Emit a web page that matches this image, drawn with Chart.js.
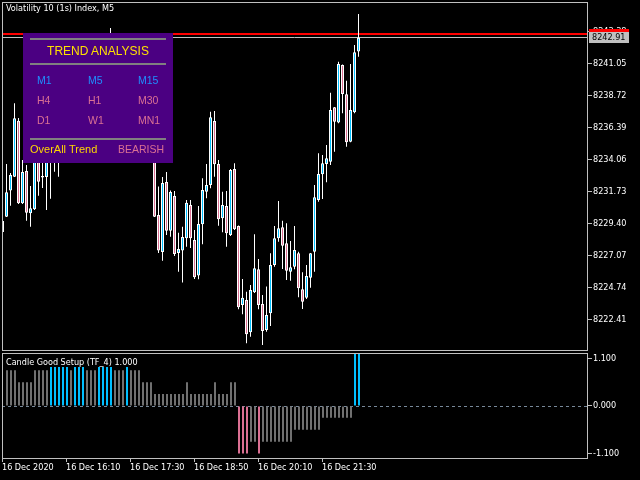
<!DOCTYPE html>
<html>
<head>
<meta charset="utf-8">
<script src="https://cdn.jsdelivr.net/npm/chart.js@4.4.1/dist/chart.umd.min.js"></script>
<style>
html,body{margin:0;padding:0;background:#000;}
#wrap{position:relative;width:640px;height:480px;background:#000;overflow:hidden;}
canvas{position:absolute;left:0;}
#main{top:0;}
#sub{top:352px;}
.t{position:absolute;font-family:"DejaVu Sans Condensed","DejaVu Sans",sans-serif;font-size:9px;line-height:9px;color:#fff;white-space:nowrap;}
#panel{position:absolute;left:23px;top:33px;width:150px;height:130px;background:#4B0082;font-family:"Liberation Sans",Arial,sans-serif;}
#panel .ln{position:absolute;left:7px;width:136px;height:2px;background:#808080;}
#panel .tx{position:absolute;white-space:nowrap;font-size:10.5px;line-height:10.5px;}
.bl{color:#1E90FF;}
.pk{color:#DB7093;}
</style>
</head>
<body>
<div id="wrap">
  <canvas id="main" width="640" height="352"></canvas>
  <canvas id="sub" width="640" height="128"></canvas>
  <div class="t" style="left:6px;top:4px;">Volatility 10 (1s) Index, M5</div>
  <div class="t" style="left:6px;top:358px;">Candle Good Setup (TF_4) 1.000</div>
  <div id="panel">
    <div class="ln" style="top:5px;"></div>
    <div class="tx" style="left:0;width:150px;text-align:center;top:11.5px;font-size:12px;line-height:12px;color:#FFE000;">TREND ANALYSIS</div>
    <div class="ln" style="top:30px;"></div>
    <div class="tx bl" style="left:14px;top:41.8px;">M1</div>
    <div class="tx bl" style="left:65px;top:41.8px;">M5</div>
    <div class="tx bl" style="left:115px;top:41.8px;">M15</div>
    <div class="tx pk" style="left:14px;top:61.8px;">H4</div>
    <div class="tx pk" style="left:65px;top:61.8px;">H1</div>
    <div class="tx pk" style="left:115px;top:61.8px;">M30</div>
    <div class="tx pk" style="left:14px;top:81.8px;">D1</div>
    <div class="tx pk" style="left:65px;top:81.8px;">W1</div>
    <div class="tx pk" style="left:115px;top:81.8px;">MN1</div>
    <div class="ln" style="top:105px;"></div>
    <div class="tx" style="left:7px;top:111px;font-size:11px;line-height:11px;color:#FFD700;">OverAll Trend</div>
    <div class="tx pk" style="left:95px;top:111px;font-size:10.5px;">BEARISH</div>
  </div>
</div>
<script>
// ---------- data ----------
const openPrices = [
 8229.57,8229.88,8231.78,8232.79,8236.87,8230.86,8233.21,8230.13,8230.42,8234.74,
 8232.85,8232.77,8234.01,8236.56,8234.16,8236.92,8238.74,8237.65,8239.84,8240.93,
 8239.47,8241.29,8240.20,8241.66,8242.38,8240.56,8239.11,8241.66,8242.89,8240.93,
 8239.47,8240.56,8238.38,8236.92,8238.02,8235.83,8237.07,8235.47,8234.37,8230.01,
 8227.31,8232.41,8228.86,8231.39,8227.24,8227.41,8228.31,8230.73,8228.18,8225.59,
 8229.33,8231.70,8232.19,8236.85,8233.72,8229.77,8230.66,8228.55,8233.36,8229.20,
 8223.45,8223.82,8221.46,8224.38,8226.05,8223.52,8221.63,8222.85,8226.36,8228.31,
 8229.11,8227.94,8225.88,8226.24,8227.22,8224.60,8223.98,8225.44,8227.33,8231.10,
 8232.97,8233.72,8233.89,8237.85,8236.73,8240.93,8238.79,8235.34,8237.48,8241.90
];
const highPrices = [
 8229.71,8233.72,8233.06,8238.14,8237.07,8234.01,8233.65,8232.12,8235.10,8235.10,
 8234.16,8235.47,8237.07,8237.29,8237.65,8239.25,8239.47,8240.42,8241.44,8241.29,
 8242.02,8241.87,8242.38,8242.89,8242.75,8241.00,8242.17,8243.62,8243.11,8241.29,
 8241.15,8240.85,8238.74,8238.38,8238.38,8237.50,8237.29,8236.05,8234.74,8232.07,
 8232.77,8233.14,8231.78,8231.75,8228.72,8229.15,8231.10,8231.10,8228.91,8230.66,
 8232.68,8233.72,8237.53,8237.58,8234.01,8231.70,8231.75,8233.36,8233.77,8229.24,
 8225.35,8224.42,8224.91,8228.60,8226.80,8224.18,8224.79,8227.22,8229.20,8231.02,
 8229.59,8229.40,8228.11,8229.20,8227.33,8225.83,8226.36,8227.24,8232.19,8234.50,
 8234.37,8235.10,8238.91,8237.87,8241.17,8240.96,8239.78,8241.00,8242.38,8244.64
];
const lowPrices = [
 8228.62,8229.86,8230.68,8232.77,8230.81,8230.81,8229.59,8229.15,8230.37,8231.41,
 8231.97,8230.37,8231.19,8233.16,8232.79,8236.19,8237.07,8237.29,8239.11,8238.74,
 8238.96,8239.69,8239.84,8241.15,8240.20,8238.52,8238.74,8241.29,8240.56,8238.96,
 8238.74,8237.80,8236.34,8236.19,8235.32,8235.10,8234.74,8234.01,8229.86,8227.24,
 8226.68,8228.55,8228.42,8227.02,8225.88,8225.08,8227.70,8227.60,8225.35,8225.32,
 8227.87,8231.22,8231.95,8232.79,8229.23,8228.75,8227.70,8228.48,8228.91,8223.14,
 8222.78,8220.66,8221.14,8224.33,8223.14,8220.54,8221.51,8221.92,8226.24,8228.06,
 8226.07,8225.27,8225.22,8226.05,8224.01,8223.16,8223.89,8224.71,8225.88,8230.97,
 8231.17,8232.39,8233.65,8234.61,8236.68,8237.41,8234.98,8235.30,8237.41,8241.53
];
const closePrices = [
 8228.77,8231.66,8232.92,8237.05,8230.86,8233.14,8230.17,8230.49,8234.74,8232.43,
 8232.74,8234.74,8236.56,8234.37,8236.92,8238.74,8237.65,8239.84,8240.93,8239.47,
 8241.29,8240.20,8241.66,8242.38,8240.56,8239.11,8241.66,8242.89,8240.93,8239.47,
 8240.56,8238.38,8236.92,8238.02,8235.83,8237.07,8235.47,8234.37,8229.88,8227.41,
 8232.34,8228.86,8231.68,8227.17,8227.53,8228.40,8230.90,8228.31,8225.47,8229.35,
 8231.83,8232.19,8237.12,8233.70,8229.69,8230.73,8228.67,8233.28,8228.96,8223.29,
 8223.98,8221.32,8224.54,8226.12,8223.45,8221.56,8222.72,8226.36,8228.31,8229.04,
 8227.77,8225.95,8226.20,8227.46,8224.67,8223.69,8225.56,8227.22,8231.29,8232.99,
 8233.77,8234.13,8237.65,8236.80,8241.00,8238.82,8235.30,8237.65,8241.85,8242.91
];
const setupValues = [
 null,0.825,0.825,0.825,0.55,0.55,0.55,0.55,0.825,0.825,
 0.825,0.825,0.9,0.9,0.9,0.9,0.9,0.825,0.9,0.9,
 0.9,0.825,0.825,0.825,0.9,0.9,0.9,0.9,0.825,0.825,
 0.825,0.9,0.825,0.825,0.825,0.55,0.55,0.55,0.275,0.275,
 0.275,0.275,0.275,0.275,0.275,0.275,0.55,0.275,0.275,0.275,
 0.275,0.275,0.275,0.55,0.275,0.275,0.275,0.55,0.55,-1.1,
 -1.1,-1.1,-0.825,-0.825,-1.1,-0.825,-0.825,-0.825,-0.825,-0.825,
 -0.825,-0.825,-0.825,-0.55,-0.55,-0.55,-0.55,-0.55,-0.55,-0.55,
 -0.275,-0.275,-0.275,-0.275,-0.275,-0.275,-0.275,-0.275,1.25,1.25
];
// g = neutral, b = good bullish setup, p = good bearish setup
const setupState = ('-ggggggggg'+'ggbbbbbgbb'+'bgggbbbbgg'+'gbgggggggg'+'gggggggggg'+
                    'gggggggggp'+'ppggpggggg'+'gggggggggg'+'ggggggggbb').split('');
const priceTicks = [8222.41,8224.74,8227.07,8229.40,8231.73,8234.06,8236.39,8238.72,8241.05,8243.38];
const setupTicks = [-1.1, 0, 1.1];
const timeLabels = ['16 Dec 2020','16 Dec 16:10','16 Dec 17:30','16 Dec 18:50','16 Dec 20:10','16 Dec 21:30'];
const timeTickIndex = [0,16,32,48,64,80];
const bidPrice = 8242.91;
const askPrice = 8243.18;

// ---------- styles ----------
const FONT = {family:'"DejaVu Sans Condensed","DejaVu Sans",sans-serif', size:9};
const FRAME = '#c0c0c0';
const BLUE = '#00BFFF', PINK = '#DB7093', GRAY = '#707070';
const stateColor = {g:GRAY, b:BLUE, p:PINK, '-':GRAY};

const idx = openPrices.map((_, i) => i);
const bodyData = idx.map(i => ({x:i, y:[openPrices[i], closePrices[i]]}));
const wickData = idx.map(i => ({x:i, y:[lowPrices[i], highPrices[i]]}));
const bodyColors = idx.map(i => closePrices[i] >= openPrices[i] ? BLUE : PINK);
const setupData = idx.map(i => ({x:i, y:setupValues[i]}));
const setupColors = idx.map(i => stateColor[setupState[i]]);

function noPad(ax){ ax.paddingTop = 0; ax.paddingBottom = 0; ax.paddingLeft = 0; ax.paddingRight = 0; }

const framePlugin = {
  id:'frame',
  afterDraw(chart){
    const {ctx, chartArea:a} = chart;
    ctx.save();
    ctx.strokeStyle = FRAME; ctx.lineWidth = 1;
    ctx.strokeRect(a.left+0.5, a.top+0.5, a.right-a.left, a.bottom-a.top);
    ctx.restore();
  }
};

const priceLinePlugin = {
  id:'priceLines',
  beforeDatasetsDraw(chart){
    const {ctx, chartArea:a, scales:{y}} = chart;
    ctx.save();
    ctx.strokeStyle = '#ff0000'; ctx.lineWidth = 2;
    const ya = Math.round(y.getPixelForValue(askPrice));
    ctx.beginPath(); ctx.moveTo(a.left, ya); ctx.lineTo(a.right, ya); ctx.stroke();
    ctx.strokeStyle = FRAME; ctx.lineWidth = 1;
    const yb = Math.floor(y.getPixelForValue(bidPrice)) + 0.5;
    ctx.beginPath(); ctx.moveTo(a.left, yb); ctx.lineTo(a.right, yb); ctx.stroke();
    ctx.restore();
  },
  afterDraw(chart){
    const {ctx, chartArea:a, scales:{y}} = chart;
    ctx.save();
    const ya = Math.round(y.getPixelForValue(askPrice));
    ctx.fillStyle = '#ff0000';
    ctx.fillRect(a.right+2, ya-5, 40, 11);
    const yb = Math.floor(y.getPixelForValue(bidPrice));
    ctx.fillStyle = '#c0c0c0';
    ctx.fillRect(a.right+2, yb-5, 40, 11);
    ctx.fillStyle = '#000';
    ctx.font = '9px ' + FONT.family;
    ctx.textBaseline = 'middle';
    ctx.fillText(bidPrice.toFixed(2), a.right+5, yb+0.5);
    ctx.restore();
  }
};

const zeroLinePlugin = {
  id:'zeroLine',
  beforeDatasetsDraw(chart){
    const {ctx, chartArea:a, scales:{y}} = chart;
    ctx.save();
    ctx.strokeStyle = '#778899'; ctx.lineWidth = 1; ctx.setLineDash([3,3]);
    const y0 = Math.round(y.getPixelForValue(0)) + 0.5;
    ctx.beginPath(); ctx.moveTo(a.left, y0); ctx.lineTo(a.right, y0); ctx.stroke();
    ctx.restore();
  }
};

const common = {
  responsive:false, animation:false, devicePixelRatio:1, events:[],
  plugins:{legend:{display:false}, tooltip:{enabled:false}}
};

new Chart(document.getElementById('main'), {
  type:'bar',
  data:{datasets:[
    {data:bodyData, backgroundColor:bodyColors, borderColor:'#ffffff', borderWidth:1,
     borderSkipped:false, barThickness:3, grouped:false, inflateAmount:0, order:1},
    {data:wickData, backgroundColor:'#ffffff', borderWidth:0, barThickness:1,
     grouped:false, inflateAmount:0, order:2}
  ]},
  options:Object.assign({}, common, {
    layout:{padding:{left:2, top:2, right:0, bottom:2}},
    scales:{
      x:{type:'linear', display:false, min:-0.125, max:146.125, offset:false, grid:{offset:false}},
      y:{type:'linear', position:'right', min:8220.174, max:8245.513,
         afterBuildTicks:ax => { ax.ticks = priceTicks.map(v => ({value:v})); },
         afterFit:ax => { ax.width = 53; noPad(ax); },
         ticks:{color:'#ffffff', font:FONT, padding:1, autoSkip:false, callback:v => Number(v).toFixed(2)},
         grid:{drawOnChartArea:false, drawTicks:true, tickLength:5, color:FRAME},
         border:{display:false}}
    }
  }),
  plugins:[priceLinePlugin, framePlugin]
});

new Chart(document.getElementById('sub'), {
  type:'bar',
  data:{datasets:[
    {data:setupData, backgroundColor:setupColors, borderWidth:0, barThickness:2, grouped:false, inflateAmount:0}
  ]},
  options:Object.assign({}, common, {
    layout:{padding:{left:2, top:1, right:0, bottom:0}},
    scales:{
      x:{type:'linear', min:-0.25, max:146, offset:false,
         afterBuildTicks:ax => { ax.ticks = timeTickIndex.map(v => ({value:v - 0.25})); },
         afterFit:ax => { ax.height = 22; noPad(ax); },
         ticks:{color:'#ffffff', font:FONT, align:'start', maxRotation:0, autoSkip:false, padding:0,
                callback:(v, i) => timeLabels[i]},
         grid:{drawOnChartArea:false, drawTicks:true, tickLength:4, color:FRAME, offset:false},
         border:{display:false}},
      y:{type:'linear', position:'right', min:-1.204, max:1.227,
         afterBuildTicks:ax => { ax.ticks = setupTicks.map(v => ({value:v})); },
         afterFit:ax => { ax.width = 53; noPad(ax); },
         ticks:{color:'#ffffff', font:FONT, padding:1, autoSkip:false, callback:v => Number(v).toFixed(3)},
         grid:{drawOnChartArea:false, drawTicks:true, tickLength:5, color:FRAME},
         border:{display:false}}
    }
  }),
  plugins:[zeroLinePlugin, framePlugin]
});
</script>
</body>
</html>
